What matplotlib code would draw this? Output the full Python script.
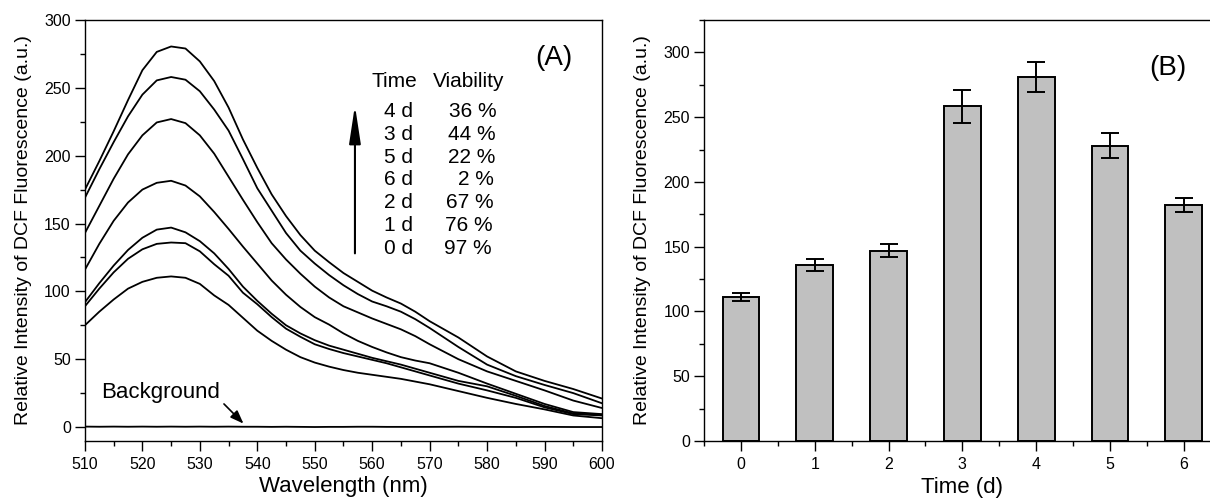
import numpy as np
import matplotlib
matplotlib.use('Agg')
import matplotlib.pyplot as plt
from matplotlib.ticker import MultipleLocator, FixedLocator

plt.rcParams['font.family'] = ['Liberation Sans', 'DejaVu Sans']

# ---- panel A: DCF emission spectra ----
wl = [510, 512.5, 515, 517.5, 520, 522.5, 525, 527.5, 530, 532.5, 535, 537.5,
      540, 542.5, 545, 547.5, 550, 552.5, 555, 557.5, 560, 562.5, 565, 567.5,
      570, 575, 580, 585, 590, 595, 600]

spec_4d = [175, 196, 218, 241, 263, 276.5, 280.5, 279, 269.5, 255, 235.5, 212,
           191, 171.5, 155.5, 141.5, 130, 121.5, 113.5, 107, 100.5, 95.5, 91, 85,
           78, 66, 52, 41, 34, 28, 21]
spec_3d = [169, 190, 210, 229, 245, 255.5, 258, 256, 247.5, 234, 218.5, 197.5,
           176, 159.5, 143, 130, 120.5, 112, 104.5, 98, 92.5, 89, 85, 79.5,
           73, 59, 46, 37.5, 31, 25, 17.5]
spec_5d = [143, 163, 183, 201, 215, 224.5, 227, 224, 215, 201.5, 184.5, 167.5,
           151, 135.5, 123.5, 113, 103.5, 95.5, 89, 84.5, 80, 76, 72, 67,
           61, 50, 41, 34, 27, 19.5, 14]
spec_6d = [116, 135, 152, 165.5, 175, 180, 181.5, 178, 170, 158.5, 146, 133,
           120.5, 108, 97.5, 88.5, 81, 75.5, 69, 63.5, 59, 55, 51.5, 49,
           47, 40, 32, 24.5, 17, 11, 9.5]
spec_2d = [92, 106, 119, 130.5, 139.5, 145.5, 147, 143.5, 137, 128, 116.5, 103.5,
           93, 83.5, 75, 69, 64, 60, 57, 54, 51, 48.5, 46, 43,
           40, 34, 30, 23, 15.5, 10, 9]
spec_1d = [89, 102, 114, 124, 131, 135, 136, 135.5, 129.5, 120, 111.5, 99,
           90.5, 81, 72.5, 66.5, 61, 57.5, 54.5, 52, 49.5, 47, 44, 41,
           38, 32, 27, 21.5, 14.5, 9.5, 8.5]
spec_0d = [75, 85, 94, 102, 107, 110, 111, 110, 105.5, 97, 90, 80.5,
           71, 63.5, 57, 51.5, 47.5, 44.5, 42, 40, 38.5, 37, 35.5, 33.5,
           31.5, 26.5, 21.5, 17, 13, 8.5, 6.5]
background = [0.3, 0.2, 0.3, 0.2, 0.3, 0.2, 0.3, 0.2, 0.3, 0.2, 0.3, 0.2,
              0.2, 0.1, 0.2, 0.1, 0.0, 0.1, 0.1, 0.2, 0.2, 0.1, 0.1, 0.1,
              0.1, 0.2, 0.1, 0.0, 0.1, 0.0, 0.0]

legend_days = ['4 d', '3 d', '5 d', '6 d', '2 d', '1 d', '0 d']
legend_viab = ['36 %', '44 %', '22 %', '2 %', '67 %', '76 %', '97 %']

# ---- panel B: bar chart ----
days = [0, 1, 2, 3, 4, 5, 6]
bar_mean = [111, 136, 147, 258.5, 281, 228, 182]
bar_err = [3.3, 4.5, 4.9, 12.7, 11.9, 9.4, 5.5]

fig = plt.figure(figsize=(12.1, 5.03), dpi=100)
axA = fig.add_axes([0.0702, 0.1241, 0.4273, 0.8361])
axB = fig.add_axes([0.5819, 0.1233, 0.4269, 0.8369])

ylab = 'Relative Intensity of DCF Fluorescence (a.u.)'

for s in [spec_4d, spec_3d, spec_5d, spec_6d, spec_2d, spec_1d, spec_0d]:
    axA.plot(wl, s, color='k', lw=1.3, solid_joinstyle='round')
axA.plot(wl, background, color='k', lw=1.3)

axA.set_xlim(510, 600)
axA.set_ylim(-10, 300)
axA.xaxis.set_major_locator(MultipleLocator(10))
axA.xaxis.set_minor_locator(MultipleLocator(5))
axA.yaxis.set_major_locator(MultipleLocator(50))
axA.yaxis.set_minor_locator(MultipleLocator(25))
axA.set_xlabel('Wavelength (nm)', fontsize=16)
axA.set_ylabel(ylab, fontsize=14)
axA.xaxis.set_label_coords(0.5, -0.110)
axA.xaxis.label.set_va('center')
axA.yaxis.set_label_coords(-0.119, 0.5)
axA.yaxis.label.set_va('center')

axA.text(591.6, 272, '(A)', fontsize=20, ha='center', va='center')
axA.text(559.9, 254.5, 'Time', fontsize=15, ha='left', va='center')
axA.text(570.6, 254.5, 'Viability', fontsize=15, ha='left', va='center')
for i in range(len(legend_days)):
    yy = 232.3 - i * 16.73
    axA.text(567.1, yy, legend_days[i], fontsize=15, ha='right', va='center')
    axA.text(581.7 - i * 0.15, yy, legend_viab[i], fontsize=15, ha='right', va='center')
axA.annotate('', xy=(557, 237), xytext=(557, 128),
             arrowprops=dict(arrowstyle='-|>,head_length=2.3,head_width=0.35',
                             color='k', lw=1.5, shrinkA=0, shrinkB=0))

axA.text(512.9, 25.8, 'Background', fontsize=16, ha='left', va='center')
axA.annotate('', xy=(537.6, 2.5), xytext=(534.2, 17),
             arrowprops=dict(arrowstyle='-|>,head_length=0.8,head_width=0.3',
                             color='k', lw=1.2, shrinkA=0, shrinkB=0))

# bars
axB.bar(days, bar_mean, width=0.5, color='#c0c0c0', edgecolor='k', lw=1.4, zorder=2)
axB.errorbar(days, bar_mean, yerr=bar_err, fmt='none', ecolor='k',
             elinewidth=1.4, capsize=6.3, capthick=1.4, zorder=3)
axB.set_xlim(-0.5, 6.5)
axB.set_ylim(0, 325)
axB.xaxis.set_major_locator(FixedLocator(days))
axB.xaxis.set_minor_locator(MultipleLocator(0.5))
axB.yaxis.set_major_locator(MultipleLocator(50))
axB.yaxis.set_minor_locator(MultipleLocator(25))
axB.set_xlabel('Time (d)', fontsize=16)
axB.set_ylabel(ylab, fontsize=14)
axB.xaxis.set_label_coords(0.5, -0.110)
axB.xaxis.label.set_va('center')
axB.yaxis.set_label_coords(-0.12, 0.5)
axB.yaxis.label.set_va('center')
axB.text(5.79, 288, '(B)', fontsize=20, ha='center', va='center')

for ax in [axA, axB]:
    for sp in ax.spines.values():
        sp.set_linewidth(1.0)
    ax.tick_params(which='major', direction='out', length=7.2, width=1.0,
                   labelsize=11.5, top=False, right=False)
    ax.tick_params(which='minor', direction='out', length=3.6, width=1.0,
                   top=False, right=False)
    ax.tick_params(axis='x', which='major', pad=4.5)
    ax.tick_params(axis='y', which='major', pad=3)

fig.savefig('out.png', dpi=100)
